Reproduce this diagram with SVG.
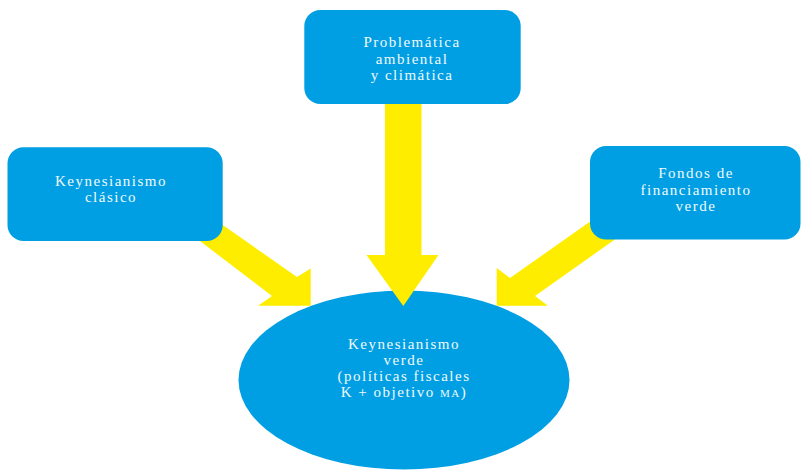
<svg xmlns="http://www.w3.org/2000/svg" width="801" height="470" viewBox="0 0 801 470">
<style>
.box{fill:#009FE3;}
.arrow{fill:#FFED00;}
.t{font-family:"Liberation Serif","Times New Roman",serif;font-size:15px;fill:#F2F9FD;text-anchor:middle;letter-spacing:1.5px;}
.sc{font-variant:small-caps;}
</style>
<rect width="801" height="470" fill="#FFFFFF"/>
<g id="node-keynesianismo-verde">
<ellipse class="box" cx="404" cy="380" rx="165.5" ry="89.5"/>
<text class="t" x="404" y="349">Keynesianismo</text>
<text class="t" x="404" y="365">verde</text>
<text class="t" x="404" y="381">(políticas fiscales</text>
<text class="t" x="404" y="397">K + objetivo <tspan class="sc">ma</tspan>)</text>
</g>
<g id="connectors">
<polygon class="arrow" points="197,207 297,277 310.7,268.5 310.7,305.7 258,305.7 272,296 175,222"/>
<polygon class="arrow" points="615,204 510,278 496.7,268 496.7,305.7 548,305.7 535,296 636,224.5"/>
<polygon class="arrow" points="385,100 421.5,100 421.5,255 438.5,255 403.3,306 366.5,255 385,255"/>
</g>
<g id="node-problematica">
<rect class="box" x="304.3" y="10" width="216.4" height="94" rx="16"/>
<text class="t" x="412" y="47">Problemática</text>
<text class="t" x="412" y="63.5">ambiental</text>
<text class="t" x="412" y="80">y climática</text>
</g>
<g id="node-keynesianismo-clasico">
<rect class="box" x="7.5" y="147.3" width="215.2" height="93.7" rx="16"/>
<text class="t" x="111" y="186">Keynesianismo</text>
<text class="t" x="111" y="202">clásico</text>
</g>
<g id="node-fondos">
<rect class="box" x="590" y="146" width="210.5" height="93.5" rx="16"/>
<text class="t" x="696" y="178">Fondos de</text>
<text class="t" x="696" y="194.5">financiamiento</text>
<text class="t" x="696" y="211">verde</text>
</g>
</svg>
